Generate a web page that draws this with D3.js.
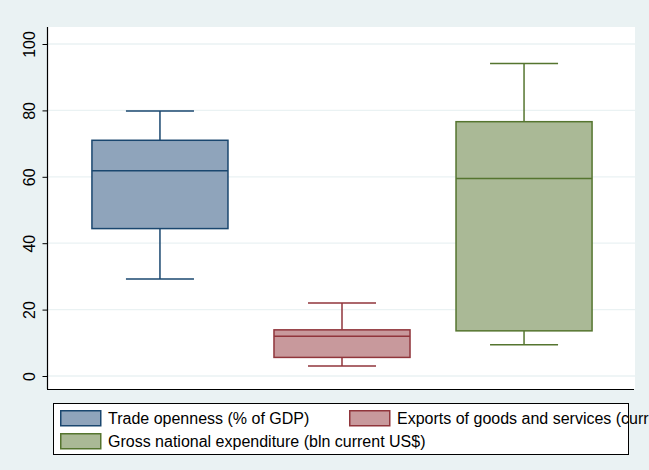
<!DOCTYPE html>
<html>
<head>
<meta charset="utf-8">
<script src="https://cdn.jsdelivr.net/npm/d3@7"></script>
<style>
  body { margin: 0; background: #eaf2f3; }
  svg { display: block; font-family: "Liberation Sans", Arial, sans-serif; }
</style>
</head>
<body>
<svg width="649" height="470"></svg>
<script>
// summary stats: lower whisker, q1, median, q3, upper whisker
var seriesNames = ["Trade openness (% of GDP)", "Exports of goods and services (current US$)", "Gross national expenditure (bln current US$)"];
var lowWhisker = [29.2, 3.0, 9.4];
var q1 = [44.4, 5.6, 13.6];
var median = [61.8, 12.0, 59.5];
var q3 = [71.0, 13.9, 76.6];
var highWhisker = [79.8, 22.0, 94.1];
var yTicks = [0, 20, 40, 60, 80, 100];

var strokes = ["#1a476f", "#90353b", "#55752f"];
var fills = ["#8fa4bb", "#c8999c", "#aab996"];

var svg = d3.select("svg");
var width = 649, height = 470;

svg.append("rect").attr("width", width).attr("height", height).attr("fill", "#eaf2f3");

var plot = { left: 47, right: 635, top: 27, bottom: 389 };

svg.append("rect")
    .attr("x", plot.left).attr("y", plot.top)
    .attr("width", plot.right - plot.left).attr("height", plot.bottom - plot.top)
    .attr("fill", "#fff");

var y = d3.scaleLinear().domain([0, 100]).range([376, 44]);
var x = d3.scaleBand().domain(d3.range(seriesNames.length))
    .range([69, 615]).paddingInner(0.2527).paddingOuter(0.126);

// gridlines
svg.append("g").selectAll("line")
    .data(yTicks)
    .enter().append("line")
    .attr("x1", plot.left).attr("x2", plot.right)
    .attr("y1", function(d) { return y(d); })
    .attr("y2", function(d) { return y(d); })
    .attr("stroke", "#eaf2f3").attr("stroke-width", 1.3);

// y axis
var yAxis = svg.append("g")
    .attr("transform", "translate(" + (plot.left + 0.5) + ",0)")
    .call(d3.axisLeft(y).tickValues(yTicks).tickSize(5).tickPadding(6));
yAxis.select(".domain").remove();
yAxis.selectAll(".tick line").attr("stroke", "#000");
yAxis.selectAll(".tick text")
    .attr("transform", "rotate(-90)")
    .attr("x", 0).attr("y", -13)
    .attr("dy", 0)
    .attr("text-anchor", "middle")
    .attr("font-size", 16)
    .attr("font-family", "Liberation Sans, Arial, sans-serif")
    .attr("fill", "#000");

svg.append("line")
    .attr("x1", plot.left + 0.5).attr("x2", plot.left + 0.5)
    .attr("y1", plot.top).attr("y2", plot.bottom)
    .attr("stroke", "#000").attr("stroke-width", 1.2);
svg.append("line")
    .attr("x1", plot.left).attr("x2", plot.right - 1)
    .attr("y1", plot.bottom + 0.5).attr("y2", plot.bottom + 0.5)
    .attr("stroke", "#000").attr("stroke-width", 1.2);

// boxes
var boxes = svg.append("g").selectAll("g")
    .data(d3.range(seriesNames.length))
    .enter().append("g");

boxes.each(function(i) {
    var g = d3.select(this);
    var x0 = x(i), bw = x.bandwidth(), cx = x0 + bw / 2, capW = bw / 2;
    g.append("line")
        .attr("x1", cx).attr("x2", cx)
        .attr("y1", y(highWhisker[i])).attr("y2", y(q3[i]))
        .attr("stroke", strokes[i]).attr("stroke-width", 1.5);
    g.append("line")
        .attr("x1", cx).attr("x2", cx)
        .attr("y1", y(q1[i])).attr("y2", y(lowWhisker[i]))
        .attr("stroke", strokes[i]).attr("stroke-width", 1.5);
    [highWhisker[i], lowWhisker[i]].forEach(function(v) {
        g.append("line")
            .attr("x1", cx - capW / 2).attr("x2", cx + capW / 2)
            .attr("y1", y(v)).attr("y2", y(v))
            .attr("stroke", strokes[i]).attr("stroke-width", 1.5);
    });
    g.append("rect")
        .attr("x", x0).attr("width", bw)
        .attr("y", y(q3[i])).attr("height", y(q1[i]) - y(q3[i]))
        .attr("fill", fills[i]).attr("stroke", strokes[i]).attr("stroke-width", 1.5);
    g.append("line")
        .attr("x1", x0).attr("x2", x0 + bw)
        .attr("y1", y(median[i])).attr("y2", y(median[i]))
        .attr("stroke", strokes[i]).attr("stroke-width", 1.5);
});

// legend
var legend = svg.append("g");
legend.append("rect")
    .attr("x", 53.5).attr("y", 403.5).attr("width", 575).attr("height", 51)
    .attr("fill", "#fff").attr("stroke", "#000").attr("stroke-width", 1);

var legendPos = [[60, 410], [349, 410], [60, 433]];
var items = legend.selectAll("g.item")
    .data(d3.range(seriesNames.length))
    .enter().append("g").attr("class", "item")
    .attr("transform", function(i) { return "translate(" + legendPos[i][0] + "," + legendPos[i][1] + ")"; });
items.append("rect")
    .attr("x", 0.75).attr("y", 0.75).attr("width", 40).attr("height", 15)
    .attr("fill", function(i) { return fills[i]; })
    .attr("stroke", function(i) { return strokes[i]; })
    .attr("stroke-width", 1.5);
items.append("text")
    .attr("x", 48).attr("y", 14)
    .attr("font-size", 16)
    .attr("fill", "#000")
    .text(function(i) { return seriesNames[i]; });
</script>
</body>
</html>
